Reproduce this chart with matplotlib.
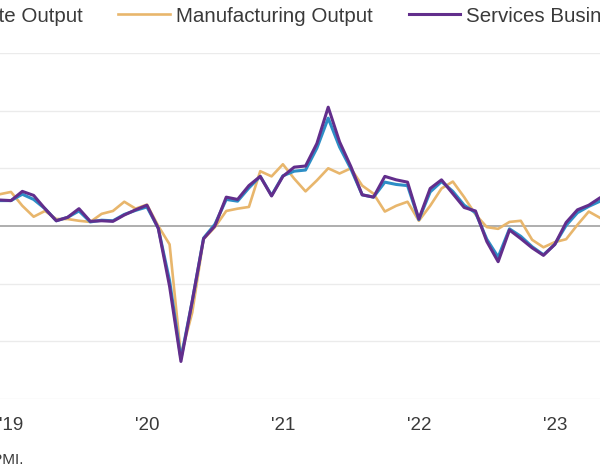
import matplotlib
matplotlib.use("Agg")
import matplotlib.pyplot as plt
import numpy as np

plt.rcParams['font.family'] = ['Liberation Sans', 'DejaVu Sans']

# monthly PMI readings, Dec 2018 .. Jun 2023 (50 = no change)
composite = [54.4,
             54.4, 55.5, 54.6, 53.0, 50.9, 51.5, 52.6, 50.7, 51.0, 50.9, 52.0, 52.7,
             53.3, 49.6, 40.5, 27.0, 37.0, 47.9, 50.3, 54.6, 54.3, 56.6, 58.6, 55.3,
             58.7, 59.5, 59.7, 63.5, 68.7, 63.7, 59.9, 55.4, 55.0, 57.6, 57.2, 57.0,
             51.1, 55.9, 57.7, 56.0, 53.6, 52.3, 47.7, 44.6, 49.5, 48.2, 46.4, 45.0,
             46.8, 50.1, 52.3, 53.4, 54.3, 53.2]
manufacturing = [55.5,
                 55.9, 53.5, 51.6, 52.6, 51.2, 51.2, 50.9, 50.7, 52.1, 52.6, 54.2, 53.0,
                 53.7, 50.0, 46.8, 27.5, 35.0, 47.7, 49.8, 52.6, 53.0, 53.3, 59.5, 58.6,
                 60.7, 58.2, 56.0, 57.9, 60.0, 59.1, 60.0, 57.0, 55.6, 52.5, 53.5, 54.2,
                 50.9, 53.5, 56.5, 57.7, 55.0, 52.0, 49.8, 49.5, 50.7, 50.9, 47.6, 46.3,
                 47.2, 47.7, 50.2, 52.5, 51.4, 50.0]
services = [54.5,
            54.4, 56.0, 55.3, 53.0, 50.9, 51.5, 53.0, 50.8, 50.9, 50.8, 51.9, 52.8,
            53.6, 49.6, 39.5, 26.5, 37.0, 47.8, 50.0, 55.0, 54.6, 57.0, 58.6, 55.2,
            58.6, 60.2, 60.4, 64.3, 70.6, 64.6, 60.3, 55.4, 55.0, 58.6, 58.0, 57.6,
            51.2, 56.5, 58.0, 55.6, 53.2, 52.6, 47.3, 43.8, 49.3, 47.8, 46.2, 44.9,
            46.8, 50.6, 52.8, 53.6, 54.9, 54.4]
months = np.arange(len(services)) - 1  # 0 = Jan 2019

year_labels = ["'19", "'20", "'21", "'22", "'23"]
year_ticks = [0, 12, 24, 36, 48]

fig = plt.figure(figsize=(6, 4.71), dpi=100)
ax = fig.add_axes([0, 0.1530, 1, 0.7345])

for v in range(20, 90, 10):
    if v == 50:
        ax.axhline(v, color='#a8a8a8', lw=1.3, zorder=1)
    else:
        ax.axhline(v, color='#ebebeb', lw=1.0, zorder=0)

ax.plot(months, manufacturing, color='#e8b66c', lw=1.9, label='Manufacturing Output', zorder=2)
ax.plot(months, composite, color='#2d8ec6', lw=2.2, label='Composite Output', zorder=3)
ax.plot(months, services, color='#622e8c', lw=2.2, label='Services Business Activity', zorder=4)

ax.set_xlim(-0.97, 51.99)
ax.set_ylim(20, 80)
ax.set_yticks([])
ax.set_xticks(year_ticks)
ax.set_xticklabels(year_labels, fontsize=13.5, color='#3a3a3a')
ax.tick_params(axis='x', length=0, pad=13)
for s in ax.spines.values():
    s.set_visible(False)

h, l = ax.get_legend_handles_labels()
order = [1, 0, 2]
fig.legend([h[i] for i in order], [l[i] for i in order], loc='center left',
           bbox_to_anchor=(-0.233, 0.966), ncol=3, frameon=False, fontsize=14.8,
           handlelength=2.5, handletextpad=0.3, columnspacing=1.75,
           borderpad=0, borderaxespad=0, labelcolor='#3a3a3a')

fig.text(23 / 600, 0.024, 'Source: S&P Global PMI.', ha='right', va='center',
         fontsize=11, color='#3a3a3a')

fig.savefig('out.png', dpi=100)
